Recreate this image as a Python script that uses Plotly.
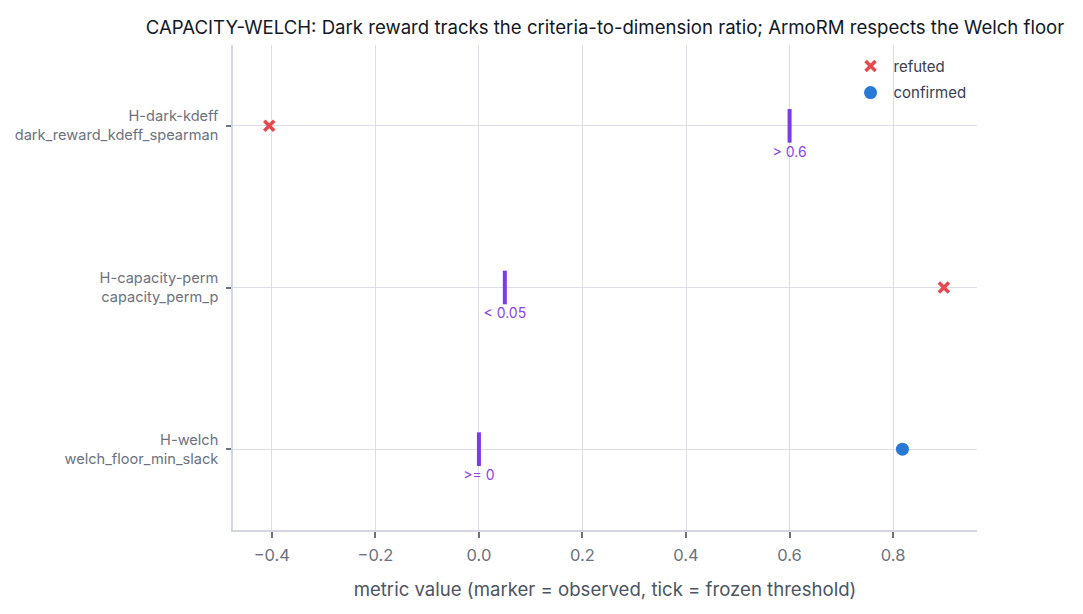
import plotly.graph_objects as go

hypotheses = ["H-dark-kdeff", "H-capacity-perm", "H-welch"]
metrics = ["dark_reward_kdeff_spearman", "capacity_perm_p", "welch_floor_min_slack"]
observed = [-0.405, 0.898, 0.818]
thresholds = [0.6, 0.05, 0.0]
threshold_labels = ["> 0.6", "< 0.05", ">= 0"]
verdicts = ["refuted", "refuted", "confirmed"]

cats = [f"{h}<br>{m}" for h, m in zip(hypotheses, metrics)]

FONT = "Inter, Roboto, sans-serif"
PURPLE = "#7c3aed"
styles = {
    "refuted": dict(symbol="x-thin", color="#e5484d", size=10),
    "confirmed": dict(symbol="circle", color="#2a78d6", size=13),
}

fig = go.Figure()

# threshold ticks
fig.add_trace(go.Scatter(
    x=thresholds, y=cats, mode="markers",
    marker=dict(symbol="line-ns", size=24, line=dict(width=4, color=PURPLE), color=PURPLE),
    showlegend=False, hoverinfo="skip",
))
# threshold labels
fig.add_trace(go.Scatter(
    x=thresholds, y=cats, mode="markers+text",
    marker=dict(size=31, opacity=0),
    text=threshold_labels, textposition="bottom center",
    textfont=dict(family=FONT, size=14, color="#8b45f0"),
    showlegend=False, hoverinfo="skip",
))

for v in ["refuted", "confirmed"]:
    xs = [o for o, vv in zip(observed, verdicts) if vv == v]
    ys = [c for c, vv in zip(cats, verdicts) if vv == v]
    st = styles[v]
    if st["symbol"] == "x-thin":
        mk = dict(symbol="x-thin", size=st["size"], color=st["color"],
                  line=dict(width=3.5, color=st["color"]))
    else:
        mk = dict(symbol=st["symbol"], size=st["size"], color=st["color"], line=dict(width=0))
    fig.add_trace(go.Scatter(x=xs, y=ys, mode="markers", name=v, marker=mk, legendgroup=v))

fig.update_layout(
    width=1083, height=614,
    paper_bgcolor="white", plot_bgcolor="white",
    margin=dict(l=233, r=106, t=45, b=84),
    font=dict(family=FONT, color="#6b7280"),
    title=dict(
        text="CAPACITY-WELCH: Dark reward tracks the criteria-to-dimension ratio; ArmoRM respects the Welch floor",
        x=0.5, xref="paper", xanchor="center", y=0.955, yanchor="middle",
        font=dict(family=FONT, size=18.6, color="#111827"),
    ),
    legend=dict(x=0.826, y=0.99, xanchor="left", yanchor="top", tracegroupgap=4,
                itemwidth=36,
                bgcolor="rgba(0,0,0,0)", font=dict(family=FONT, size=15, color="#374151")),
    xaxis=dict(
        range=[-0.475, 0.962], dtick=0.2, tickformat=".1f",
        showgrid=True, gridcolor="#dcdde8", gridwidth=1,
        showline=True, linecolor="#d3d5df", linewidth=1.5,
        ticks="outside", tickcolor="#6b7280", ticklen=6, tickwidth=1.5,
        ticklabelstandoff=3,
        zeroline=False,
        tickfont=dict(family=FONT, size=16.5, color="#6b7280"),
        title=dict(text="metric value (marker = observed, tick = frozen threshold)",
                   font=dict(family=FONT, size=18.6, color="#4b5563"), standoff=19),
    ),
    yaxis=dict(
        categoryorder="array", categoryarray=cats[::-1],
        range=[-0.5, 2.5],
        showgrid=True, gridcolor="#dcdde8", gridwidth=1,
        showline=True, linecolor="#d3d5df", linewidth=1.5,
        ticks="outside", tickcolor="#6b7280", ticklen=5, tickwidth=1.5,
        ticklabelstandoff=5,
        tickfont=dict(family=FONT, size=14.6, color="#6b7280"),
        zeroline=False,
    ),
)

fig.write_html("out.html")
